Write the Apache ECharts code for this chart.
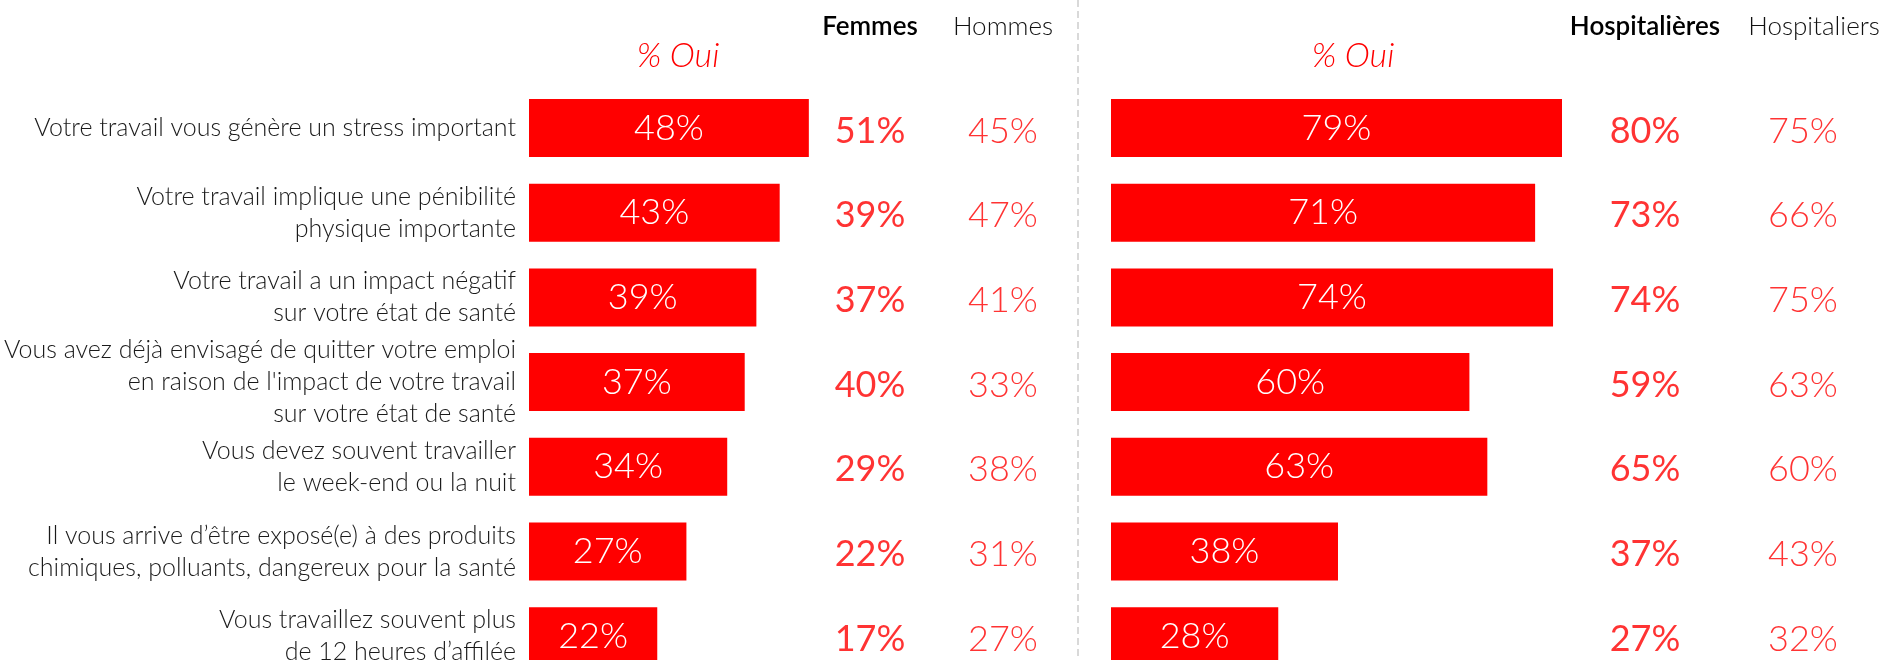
<!DOCTYPE html>
<html>
<head>
<meta charset="utf-8">
<script src="https://cdn.jsdelivr.net/npm/echarts@6/dist/echarts.min.js"></script>
<style>
html, body { margin: 0; padding: 0; background: #fff; }
#chart { width: 1885px; height: 660px; }
</style>
</head>
<body>
<div id="chart"></div>
<script>
// libellés des questions
var categories = [
	'Votre travail vous génère un stress important',
	'Votre travail implique une pénibilité\nphysique importante',
	'Votre travail a un impact négatif\nsur votre état de santé',
	"Vous avez déjà envisagé de quitter votre emploi\nen raison de l'impact de votre travail\nsur votre état de santé",
	'Vous devez souvent travailler\nle week-end ou la nuit',
	'Il vous arrive d’être exposé(e) à des produits\nchimiques, polluants, dangereux pour la santé',
	'Vous travaillez souvent plus\nde 12 heures d’affilée'
];
// % Oui - ensemble
var ensembleOui = [48, 43, 39, 37, 34, 27, 22];
var femmes = [51, 39, 37, 40, 29, 22, 17];
var hommes = [45, 47, 41, 33, 38, 31, 27];
// % Oui - hospitaliers
var hospOui = [79, 71, 74, 60, 63, 38, 28];
var hospitalieres = [80, 73, 74, 59, 65, 37, 27];
var hospitaliers = [75, 66, 75, 63, 60, 43, 32];
var groupesGauche = ['Femmes', 'Hommes'];
var groupesDroite = ['Hospitalières', 'Hospitaliers'];

var FONT = 'Lato';
var RED = '#ff0000';
var TOP = 85.6, HEIGHT = 593;

var myChart = echarts.init(document.getElementById('chart'));

function hiddenValueAxis(grid, max) {
	return {
		type: 'value', gridIndex: grid, min: 0, max: max,
		show: false, splitLine: { show: false }
	};
}
function hiddenCatAxis(grid) {
	return {
		type: 'category', gridIndex: grid, data: categories, inverse: true,
		axisLine: { show: false }, axisTick: { show: false }, axisLabel: { show: false }
	};
}
function headerAxis(grid, groupes, shift) {
	return {
		type: 'category', gridIndex: grid, data: groupes, position: 'top',
		axisLine: { show: false }, axisTick: { show: false }, splitLine: { show: false },
		axisLabel: {
			margin: 44,
			formatter: function (v, i) {
				return i === 0 ? '{b|' + v + '}' : '{l|' + v + '}';
			},
			rich: {
				b: { fontFamily: FONT, fontSize: 26, fontWeight: 600, color: '#000', lineHeight: 30 },
				l: { fontFamily: FONT, fontSize: 26, fontWeight: 300, color: '#111', lineHeight: 30,
					padding: [0, 0, 0, shift] }
			}
		}
	};
}
function barSerie(name, grid, data) {
	return {
		name: name, type: 'bar', xAxisIndex: grid, yAxisIndex: grid,
		data: data, barWidth: 58, clip: true, silent: true,
		itemStyle: { color: RED },
		label: {
			show: true, position: 'inside', formatter: '{c}%',
			color: '#fff', fontFamily: FONT, fontSize: 36, fontWeight: 300
		}
	};
}
function colSerie(name, grid, groupe, values, weight) {
	return {
		name: name, type: 'scatter', xAxisIndex: grid, yAxisIndex: grid,
		symbolSize: 1, silent: true,
		itemStyle: { color: 'transparent' },
		data: values.map(function (v, i) { return [groupe, categories[i], v]; }),
		encode: { x: 0, y: 1 },
		label: {
			show: true, position: 'inside', offset: [0, 3],
			formatter: function (p) { return p.value[2] + '%'; },
			color: RED, fontFamily: FONT, fontSize: 36, fontWeight: weight
		}
	};
}
function ouiTitle(x) {
	return {
		text: '% Oui', left: x, top: 34, textAlign: 'center',
		textStyle: { fontFamily: FONT, fontSize: 34, fontStyle: 'italic', fontWeight: 300, color: RED }
	};
}

var option = {
	animation: false,
	title: [ouiTitle(673), ouiTitle(1348)],
	grid: [
		{ left: 529, top: TOP, width: 291.5, height: HEIGHT, outerBoundsMode: 'none' },
		{ left: 1111, top: TOP, width: 451, height: HEIGHT, outerBoundsMode: 'none' },
		{ left: 803.5, top: TOP, width: 266, height: HEIGHT, outerBoundsMode: 'none' },
		{ left: 1566, top: TOP, width: 316, height: HEIGHT, outerBoundsMode: 'none' }
	],
	xAxis: [
		hiddenValueAxis(0, 50),
		hiddenValueAxis(1, 75.5),
		headerAxis(2, groupesGauche, 0),
		headerAxis(3, groupesDroite, 22)
	],
	yAxis: [
		{
			type: 'category', gridIndex: 0, data: categories, inverse: true,
			axisLine: { show: false }, axisTick: { show: false },
			axisLabel: {
				margin: 13, color: '#1a1a1a', fontFamily: FONT, fontSize: 25,
				fontWeight: 300, lineHeight: 32, align: 'right'
			}
		},
		hiddenCatAxis(1),
		hiddenCatAxis(2),
		hiddenCatAxis(3)
	],
	series: [
		barSerie('Ensemble', 0, ensembleOui),
		barSerie('Hospitaliers', 1, hospOui),
		colSerie('Femmes', 2, groupesGauche[0], femmes, 400),
		colSerie('Hommes', 2, groupesGauche[1], hommes, 300),
		colSerie('Hospitalières', 3, groupesDroite[0], hospitalieres, 400),
		colSerie('Hospitaliers', 3, groupesDroite[1], hospitaliers, 300)
	],
	graphic: [{
		type: 'line', silent: true,
		shape: { x1: 1078, y1: 0, x2: 1078, y2: 660 },
		style: { stroke: '#d9d9d9', lineWidth: 2, lineDash: [7, 4] }
	}]
};

myChart.setOption(option);
</script>
</body>
</html>
